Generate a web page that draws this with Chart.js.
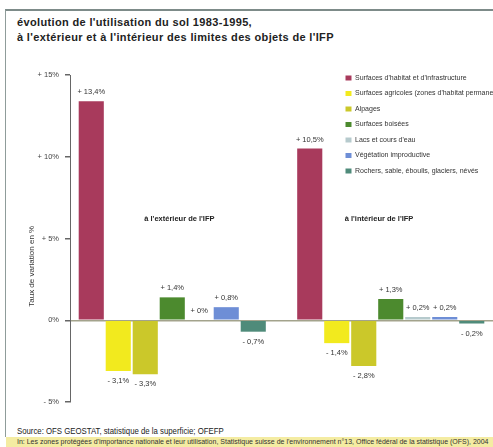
<!DOCTYPE html>
<html lang="fr">
<head>
<meta charset="utf-8">
<script src="https://cdn.jsdelivr.net/npm/chart.js@4/dist/chart.umd.min.js"></script>
<style>
  body { margin: 0; background: #fff; width: 493px; height: 447px; overflow: hidden; position: relative; font-family: 'Liberation Sans', Arial, sans-serif; }
  #frame { position: absolute; left: 5px; top: 9px; width: 488px; height: 428px; border-top: 2px solid #7d8b89; border-left: 1px solid #8f9c9a; box-sizing: border-box; }
  #title { position: absolute; left: 17px; top: 15px; font-weight: bold; font-size: 11px; line-height: 15px; letter-spacing: 0.35px; color: #222; }
  #wrap { position: absolute; left: 0; top: 0; width: 493px; height: 420px; }
  #source { position: absolute; left: 17px; top: 425px; font-size: 9.5px; color: #222; white-space: nowrap; transform: scaleX(0.82); transform-origin: left center; }
  #band { position: absolute; left: 6px; top: 437px; width: 487px; height: 10px; background: #f4eca2; }
  #band span { position: absolute; left: 11px; top: 0; font-size: 7px; line-height: 10px; color: #333; white-space: nowrap; }
</style>
</head>
<body>
<div id="frame"></div>
<div id="title">évolution de l'utilisation du sol 1983-1995,<br>à l'extérieur et à l'intérieur des limites des objets de l'IFP</div>
<div id="wrap"><canvas id="chart"></canvas></div>
<div id="source">Source: OFS GEOSTAT, statistique de la superficie; OFEFP</div>
<div id="band"><span>In: Les zones protégées d'importance nationale et leur utilisation, Statistique suisse de l'environnement n°13, Office fédéral de la statistique (OFS), 2004</span></div>
<script>
// data
const zones = ["à l'extérieur de l'IFP", "à l'intérieur de l'IFP"];
const landUse = [
  "Surfaces d'habitat et d'infrastructure",
  "Surfaces agricoles (zones d'habitat permanent)",
  "Alpages",
  "Surfaces boisées",
  "Lacs et cours d'eau",
  "Végétation improductive",
  "Rochers, sable, éboulis, glaciers, névés"
];
const habitat = [13.4, 10.5];
const agricoles = [-3.1, -1.4];
const alpages = [-3.3, -2.8];
const boisees = [1.4, 1.3];
const lacs = [0, 0.2];
const improductive = [0.8, 0.2];
const rochers = [-0.7, -0.2];
const yTicks = [-5, 0, 5, 10, 15];

const colors = ['#a83a5c', '#f2ea1e', '#cbc82a', '#4c8a2e', '#b6cacd', '#6e8ed6', '#4f8b7a'];
const series = [habitat, agricoles, alpages, boisees, lacs, improductive, rochers];

const font = "'Liberation Sans', Arial, sans-serif";

function pct(v) {
  return (v >= 0 ? '+ ' : '- ') + String(Math.abs(v)).replace('.', ',') + '%';
}

// value labels, zone captions and the axis title
const valueLabels = {
  id: 'valueLabels',
  afterDatasetsDraw(chart) {
    const ctx = chart.ctx;
    const x = chart.scales.x, y = chart.scales.y;
    ctx.save();
    ctx.font = '7.5px ' + font;
    ctx.fillStyle = '#333';
    ctx.textAlign = 'center';
    ctx.textBaseline = 'middle';
    chart.data.datasets.forEach((ds, i) => {
      chart.getDatasetMeta(i).data.forEach((bar, j) => {
        const v = ds.data[j].y;
        ctx.fillText(pct(v), bar.x, v >= 0 ? bar.y - 9 : bar.y + 10);
      });
    });
    ctx.font = 'bold 7.5px ' + font;
    ctx.fillStyle = '#222';
    ctx.textAlign = 'left';
    ctx.fillText(zones[0], x.getPixelForValue(0) - 28, y.getPixelForValue(6.2));
    ctx.fillText(zones[1], x.getPixelForValue(1) - 46, y.getPixelForValue(6.2));

    ctx.font = '8px ' + font;
    ctx.fillStyle = '#333';
    ctx.textAlign = 'center';
    ctx.translate(32, y.getPixelForValue(3.3));
    ctx.rotate(-Math.PI / 2);
    ctx.fillText('Taux de variation en %', 0, 0);
    ctx.restore();
  }
};

// move the in-chart legend to the top right corner
const legendPlace = {
  id: 'legendPlace',
  afterLayout(chart) {
    chart.legend.left += 267;
    chart.legend.top += 66;
  }
};

new Chart(document.getElementById('chart'), {
  type: 'bar',
  data: {
    datasets: landUse.map((name, i) => ({
      label: name,
      data: series[i].map((v, j) => ({ x: j, y: v })),
      backgroundColor: colors[i],
      borderWidth: 0,
      categoryPercentage: 0.865,
      barPercentage: 0.93
    }))
  },
  options: {
    responsive: true,
    maintainAspectRatio: false,
    animation: false,
    layout: { padding: { left: 8, right: -3, top: 75, bottom: 18 } },
    plugins: {
      title: { display: false },
      tooltip: { enabled: false },
      legend: {
        position: 'chartArea',
        align: 'start',
        labels: {
          boxWidth: 6,
          boxHeight: 5,
          padding: 8.5,
          color: '#333',
          font: { family: font, size: 7 }
        }
      }
    },
    scales: {
      x: {
        type: 'linear',
        min: -0.468,
        max: 1.468,
        offset: false,
        display: false,
        afterBuildTicks(scale) { scale.ticks = [{ value: 0 }, { value: 1 }]; }
      },
      y: {
        min: -5,
        max: 15,
        afterFit(scale) { scale.width = 62; },
        afterBuildTicks(scale) { scale.ticks = yTicks.map(v => ({ value: v })); },
        border: { display: true, color: '#666', width: 1 },
        grid: {
          drawOnChartArea: true,
          color: c => c.tick && c.tick.value === 0 ? '#a3a38c' : 'rgba(0,0,0,0)',
          lineWidth: 1.5,
          tickColor: '#666',
          tickLength: 5
        },
        ticks: {
          padding: 6,
          color: '#444',
          font: { family: font, size: 7.5 },
          callback: v => v === 0 ? '0%' : pct(v)
        },
        title: { display: false }
      }
    }
  },
  plugins: [valueLabels, legendPlace]
});
</script>
</body>
</html>
